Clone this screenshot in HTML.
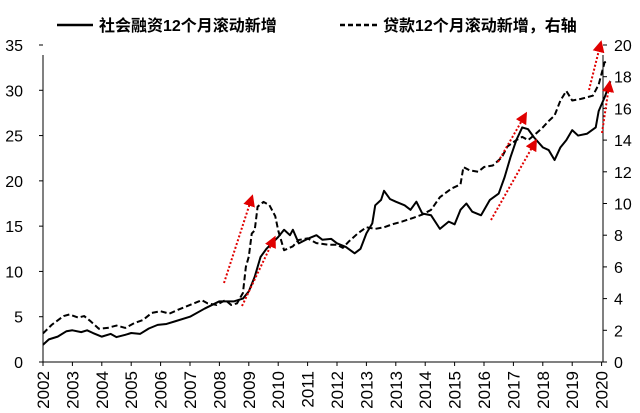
<!DOCTYPE html>
<html><head><meta charset="utf-8"><style>
html,body{margin:0;padding:0;background:#fff;}
svg{display:block;font-family:"Liberation Sans","Noto Sans CJK SC",sans-serif;}
</style></head><body>
<svg id="chart" width="640" height="413" viewBox="0 0 640 413">
<defs><marker id="arr" markerWidth="6" markerHeight="6" refX="3" refY="3" orient="auto"><path d="M0,0 L6,3 L0,6 z" fill="#e00000"/></marker></defs>
<g>
<line x1="57" y1="25" x2="93" y2="25" stroke="#000" stroke-width="2.5"/>
<text x="99" y="31" font-size="16" font-weight="bold">社会融资12个月滚动新增</text>
<line x1="340" y1="25" x2="377" y2="25" stroke="#000" stroke-width="2.5" stroke-dasharray="5,3"/>
<text x="383" y="31" font-size="16" font-weight="bold">贷款12个月滚动新增，右轴</text>
</g>
<g id="axes"></g>
<g id="series"></g>
<g id="arrows"></g>
</svg>
<script>
const xLabels=["2002","2003","2004","2005","2006","2007","2008","2009","2010","2011","2012","2013","2013","2014","2015","2016","2017","2018","2019","2020"];
const leftTicks=[0,5,10,15,20,25,30,35];
const rightTicks=[0,2,4,6,8,10,12,14,16,18,20];
const tfT=[0,0.2,0.5,0.8,1.0,1.3,1.5,1.7,2.0,2.3,2.5,2.8,3.0,3.3,3.6,3.9,4.2,4.5,5.0,5.5,6.0,6.5,6.8,7.0,7.2,7.4,7.6,8.0,8.2,8.4,8.5,8.7,9.0,9.3,9.5,9.8,10.0,10.3,10.6,10.8,11.0,11.2,11.3,11.5,11.6,11.8,12.0,12.3,12.5,12.7,12.9,13.2,13.5,13.8,14.0,14.2,14.4,14.6,14.9,15.2,15.5,15.7,15.9,16.1,16.3,16.5,16.7,17.0,17.2,17.4,17.6,17.8,18.0,18.2,18.5,18.8,18.9,19.1,19.3];
const tfV=[1.9,2.5,2.8,3.4,3.5,3.3,3.5,3.2,2.8,3.1,2.75,3.0,3.2,3.1,3.7,4.1,4.2,4.5,5.0,5.9,6.7,6.7,7.0,7.8,9.4,11.6,12.5,13.8,14.6,14.0,14.6,13.1,13.6,14.0,13.5,13.6,13.1,12.7,12.0,12.5,14.2,15.3,17.3,17.9,18.9,18.0,17.7,17.3,16.8,17.7,16.4,16.2,14.7,15.5,15.2,16.8,17.5,16.6,16.2,17.9,18.6,20.4,22.6,24.5,25.9,25.7,24.8,23.7,23.4,22.3,23.7,24.5,25.6,25.0,25.2,25.9,27.7,29.2,31.0];
const loanT=[0,0.3,0.7,0.9,1.2,1.4,1.6,1.9,2.2,2.5,2.8,3.1,3.4,3.7,4.0,4.3,4.6,5.0,5.4,5.6,5.9,6.2,6.4,6.6,6.8,6.9,7.0,7.1,7.2,7.3,7.5,7.7,7.9,8.0,8.2,8.5,8.7,9.0,9.3,9.7,10.0,10.2,10.4,10.7,11.0,11.3,11.6,11.9,12.2,12.6,12.9,13.2,13.5,13.9,14.2,14.3,14.5,14.8,15.0,15.3,15.6,15.8,16.1,16.3,16.5,16.7,17.0,17.2,17.4,17.6,17.8,18.0,18.3,18.7,18.9,19.1,19.2];
const loanV=[1.8,2.35,2.9,3.0,2.8,2.9,2.6,2.1,2.15,2.3,2.15,2.45,2.65,3.1,3.2,3.05,3.3,3.6,3.9,3.7,3.6,3.9,3.6,3.7,4.35,6.0,6.65,8.1,8.3,9.8,10.1,9.9,9.2,8.3,7.05,7.3,7.7,7.8,7.5,7.4,7.4,7.2,7.6,8.1,8.5,8.4,8.5,8.7,8.85,9.1,9.3,9.6,10.4,10.95,11.2,12.3,12.1,12.0,12.3,12.4,12.9,13.6,14.0,14.2,14.0,14.3,14.8,15.2,15.55,16.5,17.1,16.5,16.6,16.8,17.5,18.9,19.0];
const X0=43,DX=29.4,Y0=362,PH=317;
const x=t=>X0+t*DX;
const yL=v=>Y0-v*PH/35;
const yR=v=>Y0-v*PH/20;
const NS="http://www.w3.org/2000/svg";
function mk(tag,attrs,parent,text){const e=document.createElementNS(NS,tag);for(const k in attrs)e.setAttribute(k,attrs[k]);if(text!==undefined)e.textContent=text;parent.appendChild(e);return e;}
const ax=document.getElementById('axes');
let e;
e=mk('line',{x1:X0,y1:Y0,x2:603,y2:Y0,stroke:'#000','stroke-width':1},ax);


e=mk('line',{x1:X0,y1:55,x2:X0,y2:Y0,stroke:'#000','stroke-width':1},ax);


e=mk('line',{x1:603,y1:55,x2:603,y2:Y0,stroke:'#000','stroke-width':1},ax);


leftTicks.forEach(v=>{
 e=mk('line',{x1:X0-4,y1:yL(v),x2:X0,y2:yL(v),stroke:'#000'},ax);
 
 
 e=mk('text',{x:23,y:yL(v)+6,'font-size':16,'text-anchor':'end'},ax,String(v));
 
 
});
rightTicks.forEach(v=>{
 e=mk('line',{x1:603,y1:yR(v),x2:607,y2:yR(v),stroke:'#000'},ax);
 
 
 e=mk('text',{x:614,y:yR(v)+6,'font-size':16},ax,String(v));
 
 
});
xLabels.forEach((s,i)=>{
 const px=x(i);
 e=mk('line',{x1:px,y1:Y0,x2:px,y2:Y0+4,stroke:'#000'},ax);
 
 
 e=mk('text',{x:0,y:0,'font-size':17,'text-anchor':'end',transform:`translate(${px+6},${Y0+9}) rotate(-90)`},ax,s);
 
 
});
const sg=document.getElementById('series');
e=mk('polyline',{points:tfT.map((t,i)=>x(t)+','+yL(tfV[i])).join(' '),fill:'none',stroke:'#000','stroke-width':2,'stroke-linejoin':'round'},sg);


e=mk('polyline',{points:loanT.map((t,i)=>x(t)+','+yR(loanV[i])).join(' '),fill:'none',stroke:'#000','stroke-width':2,'stroke-dasharray':'6,3','stroke-linejoin':'round'},sg);


const arrowsFrom=[[224,283],[242,306],[498,162],[491,220],[589,90],[602,133]];
const arrowsTo=[[251,200],[273,241],[524,117],[534,144],[600,46],[609,86]];
const ag=document.getElementById('arrows');
arrowsFrom.forEach((a,i)=>{
 e=mk('line',{x1:a[0],y1:a[1],x2:arrowsTo[i][0],y2:arrowsTo[i][1],stroke:'#e00000','stroke-width':2,'stroke-dasharray':'2,2','marker-end':'url(#arr)'},ag);
 
 
});
</script>
</body></html>
